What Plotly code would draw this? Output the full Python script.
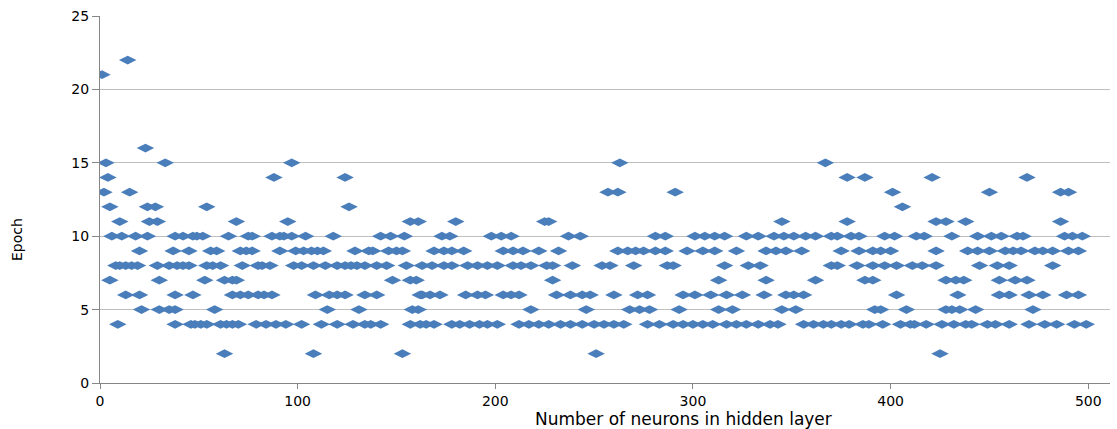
import plotly.graph_objects as go

# Epoch value -> list of "number of neurons" positions
epoch_2 = [63, 108, 153, 251, 425]
epoch_4 = [9, 38, 46, 48, 51, 54, 61, 64, 67, 70, 79, 84, 89, 94, 102, 112, 120,
           128, 134, 137, 142, 157, 162, 165, 169, 178, 182, 187, 192, 196, 201,
           212, 217, 222, 227, 233, 238, 244, 250, 255, 260, 265, 277, 283,
           290, 295, 300, 305, 310, 317, 322, 327, 333, 339, 343, 356, 361, 366, 370,
           375, 379, 386, 389, 396, 405, 410, 412, 418, 426, 432, 438, 441, 449, 453,
           460, 470, 478, 484, 493, 499]
epoch_5 = [21, 30, 35, 38, 58, 115, 131, 158, 161, 218, 246, 268, 273, 278,
           293, 313, 320, 345, 352, 392, 395, 408, 428, 431, 435, 443, 472]
epoch_6 = [13, 20, 38, 47, 67, 71, 75, 80, 83, 87, 109, 116, 120, 124, 134, 140, 162,
           163, 167, 172, 185, 191, 195, 204, 208, 212, 231, 238, 244, 248, 260, 272, 277,
           295, 301, 309, 317, 325, 336, 347, 351, 356, 403, 434, 455, 460, 470, 477, 489, 495]
epoch_7 = [5, 30, 53, 63, 67, 69, 148, 157, 160, 229, 313, 337, 362, 387, 391,
           428, 433, 437, 455, 463, 469]
epoch_8 = [8, 10, 13, 16, 19, 29, 35, 39, 42, 45, 54, 57, 61, 72, 80, 82, 86, 98, 102,
           108, 114, 120, 124, 127, 130, 134, 140, 145, 155, 163, 168, 174, 178, 186, 191,
           196, 201, 209, 213, 218, 226, 229, 239, 254, 258, 270, 287, 290, 316, 328, 334,
           370, 373, 383, 391, 397, 403, 411, 416, 423, 445, 454, 460, 482]
epoch_9 = [20, 37, 45, 56, 59, 71, 74, 77, 91, 99, 103, 107, 110, 113, 129, 136, 138,
           146, 150, 153, 169, 174, 178, 184, 204, 209, 214, 222, 232, 262, 267, 271, 275,
           281, 286, 297, 305, 311, 322, 337, 342, 347, 355, 375, 384, 391, 395, 400, 423,
           439, 444, 450, 458, 462, 466, 473, 477, 482, 490, 495]
epoch_10 = [6, 11, 18, 24, 38, 42, 47, 49, 52, 65, 75, 77, 87, 91, 93, 97, 104, 118,
            142, 147, 154, 173, 177, 198, 203, 208, 237, 243, 281, 286, 301, 306, 311, 316,
            327, 333, 341, 346, 351, 357, 362, 370, 373, 380, 384, 397, 402, 413, 417, 431,
            444, 451, 456, 464, 467, 488, 492, 497]
epoch_11 = [10, 25, 29, 69, 95, 157, 161, 180, 225, 227, 345, 378, 423, 428, 438, 486]
epoch_12 = [5, 24, 28, 54, 126, 406]
epoch_13 = [2, 15, 257, 262, 291, 401, 450, 486, 490]
epoch_14 = [4, 88, 124, 378, 387, 421, 469]
epoch_15 = [3, 33, 97, 263, 367]
epoch_16 = [23]
epoch_21 = [1]
epoch_22 = [14]

levels = {2: epoch_2, 4: epoch_4, 5: epoch_5, 6: epoch_6, 7: epoch_7, 8: epoch_8,
          9: epoch_9, 10: epoch_10, 11: epoch_11, 12: epoch_12, 13: epoch_13,
          14: epoch_14, 15: epoch_15, 16: epoch_16, 21: epoch_21, 22: epoch_22}

xs, ys = [], []
for ep, neurons in levels.items():
    for n in neurons:
        xs.append(n)
        ys.append(ep)

x_ticks = [0, 100, 200, 300, 400, 500]
y_ticks = [0, 5, 10, 15, 20, 25]

fig = go.Figure()
fig.add_trace(go.Scatter(
    x=xs, y=ys, mode="markers",
    marker=dict(symbol="diamond-wide", size=12.5, color="#4A7EBB",
                line=dict(width=0)),
    showlegend=False, hoverinfo="x+y"))

font_main = "DejaVu Sans"
fig.update_layout(
    width=1117, height=429,
    margin=dict(l=100, r=7, t=16, b=46),
    paper_bgcolor="white", plot_bgcolor="white",
    font=dict(family=font_main, size=14, color="#000000"),
    xaxis=dict(range=[0, 511], tickvals=x_ticks, ticktext=[str(v) for v in x_ticks],
               showgrid=False, zeroline=False,
               showline=True, linecolor="#868686", linewidth=1,
               ticks="outside", ticklen=5, tickcolor="#868686",
               tickfont=dict(size=14, family=font_main)),
    yaxis=dict(range=[0, 25], tickvals=y_ticks, ticktext=[str(v) for v in y_ticks],
               showgrid=True, gridcolor="#BFBFBF", gridwidth=1, zeroline=False,
               showline=True, linecolor="#868686", linewidth=1,
               ticks="outside", ticklen=7, tickcolor="#868686",
               tickfont=dict(size=14, family=font_main)),
    annotations=[
        dict(text="Number of neurons in hidden layer", xref="paper", yref="paper",
             x=0.578, y=-0.097, xanchor="center", yanchor="middle", showarrow=False,
             font=dict(size=17, family=font_main)),
        dict(text="Epoch", xref="paper", yref="paper", x=-0.082, y=0.39,
             xanchor="center", yanchor="middle", textangle=-90, showarrow=False,
             font=dict(size=14, family=font_main)),
    ],
)

fig.write_html("out.html")
